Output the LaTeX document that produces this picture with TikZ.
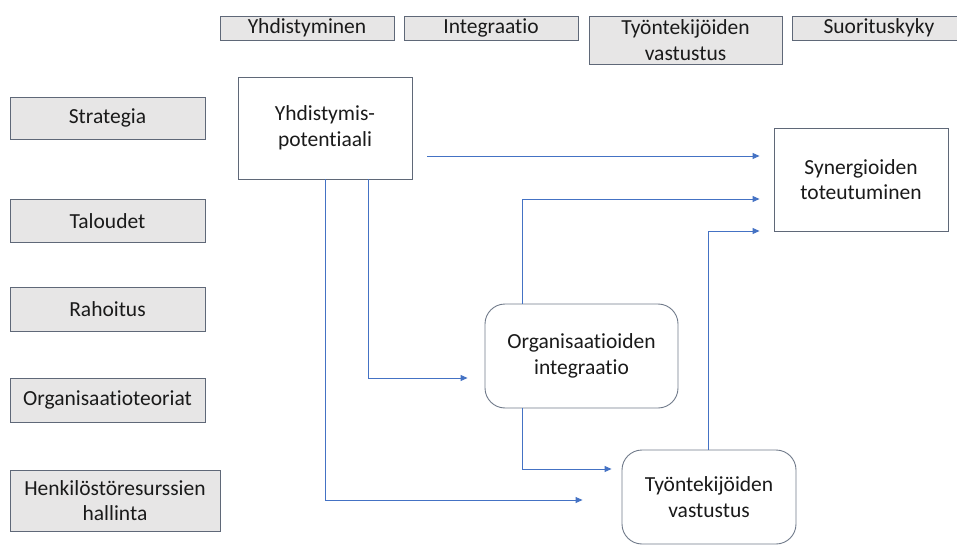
\documentclass[tikz,border=0pt]{standalone}
\usepackage{fontspec}
\setmainfont[Ligatures=NoCommon]{Carlito}
\usetikzlibrary{arrows.meta}
\definecolor{boxfill}{HTML}{E7E6E6}
\definecolor{boxline}{HTML}{5F6878}
\definecolor{roundline}{HTML}{707A8A}
\definecolor{arrblue}{HTML}{4472C4}
\definecolor{txt}{HTML}{1A1A1A}
\begin{document}
\begin{tikzpicture}[x=1pt,y=-1pt,
  every node/.style={font=\fontsize{21.5}{25.5}\selectfont, text=txt, align=center, inner sep=0pt},
  graybox/.style={draw=boxline, line width=0.9pt, fill=boxfill},
  whitebox/.style={draw=boxline, line width=0.9pt, fill=white},
  roundbox/.style={draw=roundline, line width=0.9pt, fill=white, rounded corners=20pt},
  arr/.style={draw=arrblue, line width=0.9pt, -{Triangle[length=7pt,width=6pt]}}]
\useasboundingbox (0,0) rectangle (957,545);
% top row
\node[graybox, minimum width=174pt, minimum height=24pt] (yh) at (307,28) {Yhdistyminen};
\node[graybox, minimum width=174pt, minimum height=24pt] (integ) at (491,28) {Integraatio};
\node[graybox, minimum width=193pt, minimum height=48pt] (tyot) at (685.5,40) {Työntekijöiden\\vastustus};
\node[graybox, minimum width=174pt, minimum height=24pt] (suor) at (879,28) {Suorituskyky};
% left column
\node[graybox, minimum width=195pt, minimum height=42pt] (strat) at (107.5,118) {Strategia};
\node[graybox, minimum width=195pt, minimum height=43pt] (tal) at (107.5,221) {Taloudet};
\node[graybox, minimum width=195pt, minimum height=44pt] (rah) at (107.5,309) {Rahoitus};
\node[graybox, minimum width=195pt, minimum height=44pt] (orgt) at (107.5,400) {Organisaatioteoriat};
\node[graybox, minimum width=210pt, minimum height=61pt] (henk) at (115,500.5) {Henkilöstöresurssien\\hallinta};
% main nodes
\node[whitebox, minimum width=174pt, minimum height=102pt] (yp) at (325,128) {Yhdistymis-\\potentiaali};
\node[whitebox, minimum width=174pt, minimum height=103pt] (syn) at (861,179.5) {Synergioiden\\toteutuminen};
\node[roundbox, minimum width=193pt, minimum height=104pt] (oi) at (581.5,356) {Organisaatioiden\\integraatio};
\node[roundbox, minimum width=174pt, minimum height=94pt] (tv) at (709,497) {Työntekijöiden\\vastustus};
% connectors
\draw[arr] ([xshift=15pt,yshift=-28pt]yp.east) -- ([xshift=-14pt,yshift=23.5pt]syn.west);
\draw[arr] ([xshift=-59.5pt]oi.north) |- ([xshift=-14pt,yshift=-19.5pt]syn.west);
\draw[arr] ([xshift=-1pt]tv.north) |- ([xshift=-14pt,yshift=-51.5pt]syn.west);
\draw[arr] ([xshift=43pt]yp.south) |- ([xshift=-17pt,yshift=-22pt]oi.west);
\draw[arr] (yp.south) |- ([xshift=-39pt,yshift=-3pt]tv.west);
\draw[arr] ([xshift=-59.5pt]oi.south) |- ([xshift=-10pt,yshift=28pt]tv.west);
\end{tikzpicture}
\end{document}
